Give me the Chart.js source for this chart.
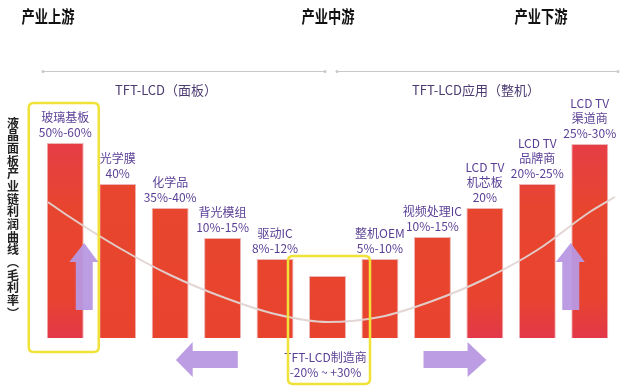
<!DOCTYPE html>
<html>
<head>
<meta charset="utf-8">
<script src="https://cdn.jsdelivr.net/npm/chart.js@4.4.0/dist/chart.umd.min.js"></script>
<style>
  html, body { margin: 0; padding: 0; background: #ffffff; }
  #wrap { width: 620px; height: 392px; position: relative; }
</style>
</head>
<body>
<div id="wrap"><canvas id="profitChart"></canvas></div>
<script>
// 产业链各环节
const categories = ['玻璃基板', '光学膜', '化学品', '背光模组', '驱动IC', 'TFT-LCD制造商',
  '整机OEM', '视频处理IC', 'LCD TV机芯板', 'LCD TV品牌商', 'LCD TV渠道商'];
// 柱子上的文字（多行）
const barLabels = [
  ['玻璃基板', '50%-60%'],
  ['光学膜', '40%'],
  ['化学品', '35%-40%'],
  ['背光模组', '10%-15%'],
  ['驱动IC', '8%-12%'],
  ['TFT-LCD制造商', '-20% ~ +30%'],
  ['整机OEM', '5%-10%'],
  ['视频处理IC', '10%-15%'],
  ['LCD TV', '机芯板', '20%'],
  ['LCD TV', '品牌商', '20%-25%'],
  ['LCD TV', '渠道商', '25%-30%']
];
// 柱高（相对毛利水平，读图估计）
const barLevels = [195, 154, 130, 100, 79, 62, 79, 101, 130, 154, 194];
// 利润曲线（微笑曲线），x 为环节序号
const curveX = [-0.33, 0, 1, 2, 3, 4, 5, 6, 7, 8, 9, 10, 10.48];
const curveY = [136, 124, 91, 63, 41, 24, 16, 21, 37, 59, 88, 126, 141];
// 顶部文字
const stageTitles = ['产业上游', '产业中游', '产业下游'];
const segmentTitles = ['TFT-LCD（面板）', 'TFT-LCD应用（整机）'];
const sideTitle = '液晶面板产业链利润曲线︵毛利率︶';

const CJK = '"Noto Sans CJK SC", "Noto Sans", sans-serif';
const PURPLE = '#5a3f96';
const ARROW = 'rgba(184, 152, 226, 0.95)';
const YELLOW = '#f1e23a';

function barColor(context) {
  const chart = context.chart;
  const area = chart.chartArea;
  if (!area) return '#e8452e';
  const i = context.dataIndex;
  const pink = [true, false, false, false, false, false, false, false, true, true, true][i];
  const g = chart.ctx.createLinearGradient(0, area.bottom - 200, 0, area.bottom);
  if (pink) {
    g.addColorStop(0, '#e63d48');
    g.addColorStop(0.35, '#e8452f');
    g.addColorStop(0.8, '#e8432f');
    g.addColorStop(1, '#e3384a');
  } else {
    g.addColorStop(0, '#e8472e');
    g.addColorStop(1, '#e8432e');
  }
  return g;
}

function upArrow(c, cx, bottom) {
  c.beginPath();
  c.moveTo(cx - 8.5, bottom - 28);
  c.lineTo(cx - 8.5, bottom - 76);
  c.lineTo(cx - 15, bottom - 76);
  c.lineTo(cx, bottom - 95);
  c.lineTo(cx + 14, bottom - 76);
  c.lineTo(cx + 8.5, bottom - 76);
  c.lineTo(cx + 8.5, bottom - 28);
  c.closePath();
  c.fill();
}

function sideArrow(c, tipX, baseX, endX, cy) {
  // 箭头尖 -> 箭头底 -> 箭尾
  c.beginPath();
  c.moveTo(tipX, cy);
  c.lineTo(baseX, cy - 18);
  c.lineTo(baseX, cy - 9);
  c.lineTo(endX, cy - 9);
  c.lineTo(endX, cy + 8);
  c.lineTo(baseX, cy + 8);
  c.lineTo(baseX, cy + 17);
  c.closePath();
  c.fill();
}

function roundBox(c, x1, y1, x2, y2, r) {
  c.beginPath();
  c.moveTo(x1 + r, y1);
  c.lineTo(x2 - r, y1);
  c.quadraticCurveTo(x2, y1, x2, y1 + r);
  c.lineTo(x2, y2 - r);
  c.quadraticCurveTo(x2, y2, x2 - r, y2);
  c.lineTo(x1 + r, y2);
  c.quadraticCurveTo(x1, y2, x1, y2 - r);
  c.lineTo(x1, y1 + r);
  c.quadraticCurveTo(x1, y1, x1 + r, y1);
  c.closePath();
  c.stroke();
}

const decorPlugin = {
  id: 'decor',
  afterDraw(chart) {
    const c = chart.ctx;
    const bars = chart.getDatasetMeta(1).data;
    const bottom = chart.chartArea.bottom;
    c.save();
    c.textAlign = 'center';
    c.textBaseline = 'middle';

    // 顶部 上游/中游/下游（字形偏窄，横向压缩）
    c.fillStyle = '#111';
    c.font = 'bold 17px ' + CJK;
    [48, 328, 541].forEach((x, i) => {
      c.save();
      c.translate(x, 17);
      c.scale(0.78, 1);
      c.fillText(stageTitles[i], 0, 0);
      c.restore();
    });

    // 分段横线
    c.strokeStyle = '#c9c9c9';
    c.lineWidth = 1;
    c.fillStyle = '#c9c9c9';
    [[43, 325], [337, 618]].forEach(seg => {
      c.beginPath();
      c.moveTo(seg[0], 71.5);
      c.lineTo(seg[1], 71.5);
      c.stroke();
      c.beginPath(); c.arc(seg[0], 71.5, 1.5, 0, Math.PI * 2); c.fill();
      c.beginPath(); c.arc(seg[1], 71.5, 1.5, 0, Math.PI * 2); c.fill();
    });

    // 面板 / 整机
    c.fillStyle = '#4b3a70';
    c.font = '13px ' + CJK;
    [166, 476].forEach((x, i) => c.fillText(segmentTitles[i], x, 90));

    // 左侧竖排标题
    c.fillStyle = '#222';
    c.font = 'bold 12px ' + CJK;
    Array.from(sideTitle).forEach((ch, i) => c.fillText(ch, 13, 123 + i * 12.67));

    // 柱子标签
    c.fillStyle = PURPLE;
    c.font = '12px ' + CJK;
    barLabels.forEach((lines, i) => {
      const b = bars[i];
      if (i === 5) {
        lines.forEach((t, k) => c.fillText(t, b.x - 2, b.base + 19 + k * 15));
      } else {
        const n = lines.length;
        lines.forEach((t, k) => c.fillText(t, b.x, b.y - 11 - (n - 1 - k) * 15));
      }
    });

    // 黄色框
    c.strokeStyle = YELLOW;
    c.lineWidth = 2.5;
    roundBox(c, bars[0].x - 36.5, 103, bars[0].x + 33.5, 352, 5);
    roundBox(c, bars[5].x - 39.5, 256, bars[5].x + 42.5, 384, 5);

    // 紫色箭头
    c.fillStyle = ARROW;
    upArrow(c, bars[0].x + 19, bottom);
    upArrow(c, bars[10].x - 19, bottom);
    const xs = chart.scales.xc;
    sideArrow(c, xs.getPixelForValue(2.11), xs.getPixelForValue(2.43), xs.getPixelForValue(3.29), bottom + 22);
    sideArrow(c, xs.getPixelForValue(8.03), xs.getPixelForValue(7.67), xs.getPixelForValue(6.83), bottom + 22);

    c.restore();
  }
};

const ctx = document.getElementById('profitChart').getContext('2d');
new Chart(ctx, {
  data: {
    labels: categories,
    datasets: [
      {
        type: 'line',
        label: '利润曲线',
        data: curveX.map((x, i) => ({ x: x, y: curveY[i] })),
        xAxisID: 'xc',
        borderColor: 'rgba(226, 212, 210, 0.95)',
        borderWidth: 2,
        pointRadius: 0,
        tension: 0.4,
        cubicInterpolationMode: 'monotone',
        clip: false,
        order: 0
      },
      {
        type: 'bar',
        label: '毛利率',
        data: barLevels,
        xAxisID: 'x',
        grouped: false,
        backgroundColor: barColor,
        borderColor: 'rgba(200, 50, 50, 0.35)',
        borderWidth: 1,
        categoryPercentage: 1,
        barPercentage: 0.705,
        order: 1
      }
    ]
  },
  options: {
    responsive: true,
    maintainAspectRatio: false,
    animation: false,
    layout: { padding: { top: 88, bottom: 54, left: 39, right: 4 } },
    plugins: {
      legend: { display: false },
      tooltip: { enabled: false }
    },
    scales: {
      x: { type: 'category', display: false, offset: true },
      xc: { type: 'linear', display: false, min: -0.5, max: 10.5 },
      y: { display: false, min: 0, max: 250 }
    }
  },
  plugins: [decorPlugin]
});
</script>
</body>
</html>
